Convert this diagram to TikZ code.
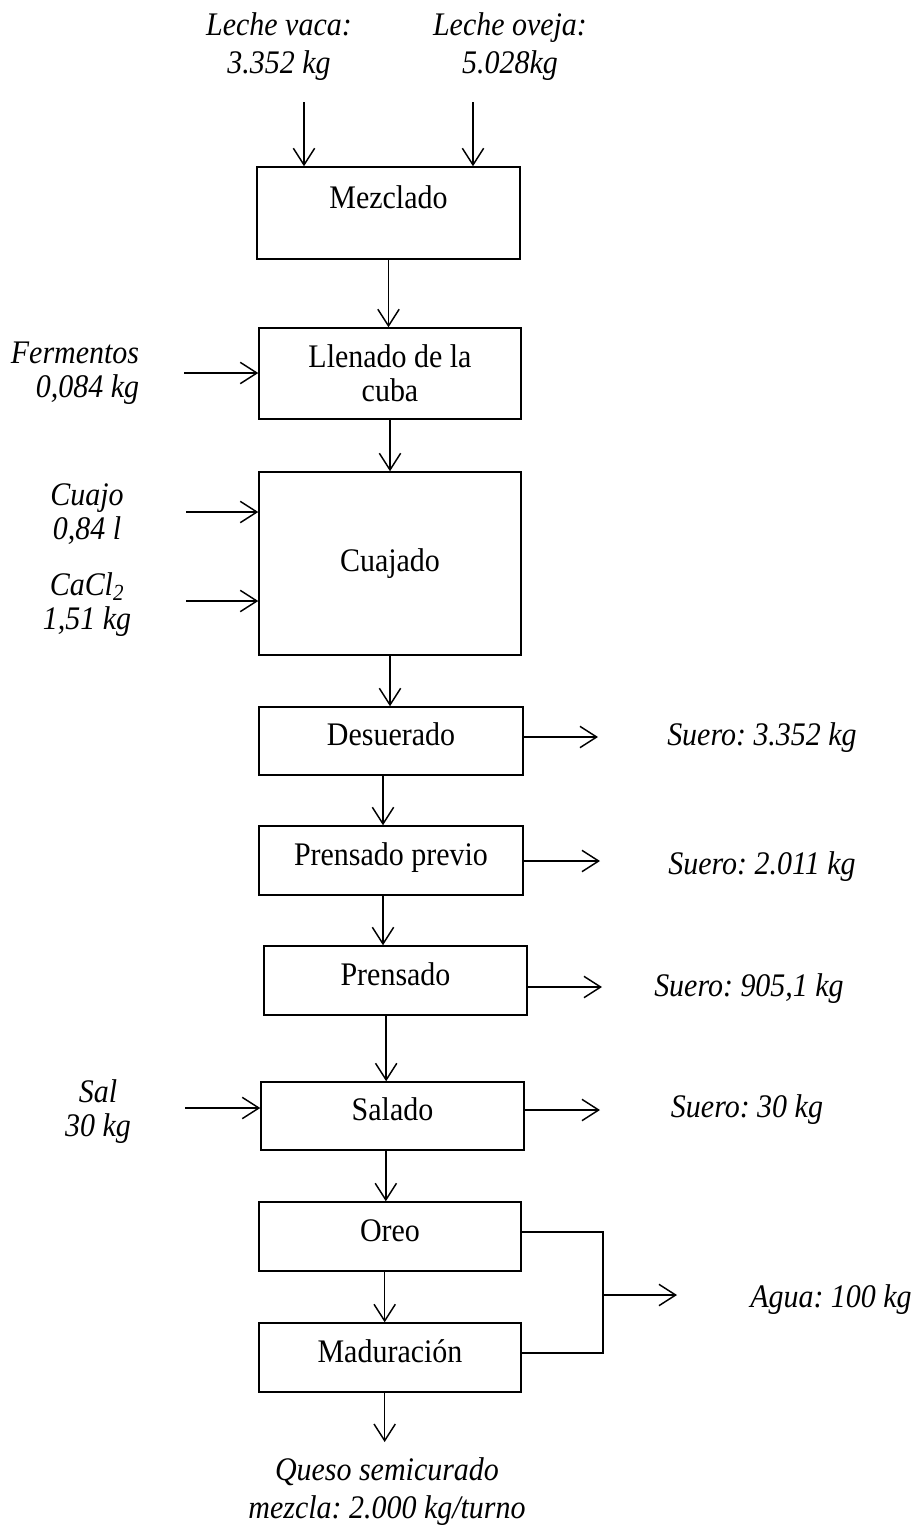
\documentclass[tikz,border=0pt]{standalone}
\usepackage{fontspec}
\setmainfont{Liberation Serif}[FakeStretch=0.91]
\usetikzlibrary{arrows.meta}
\frenchspacing
\begin{document}
\frenchspacing
\begin{tikzpicture}[x=0.75pt,y=-0.75pt,
  every node/.style={font=\fontsize{24.7}{25.5}\selectfont, inner sep=0pt},
  box/.style={draw, line width=1.1pt, align=center},
  one/.style={text height=15pt, text depth=8pt},
  sz/.style 2 args={minimum width=#1*0.75pt, minimum height=#2*0.75pt},
  lbl/.style={font=\fontsize{24.7}{25.5}\selectfont\itshape, align=center},
  lblwide/.style={font=\fontsize{24.7}{28.5}\selectfont\itshape, align=center},
  arr/.style={line width=1.1pt, -{Straight Barb[length=12.5pt,width=16pt,line width=1.1pt]}},
  flow/.style={line width=1.1pt}]

\useasboundingbox (0,0) rectangle (914,1525);

% process steps
\node[box, sz={263}{92}, text height=15pt, text depth=22pt] (mez) at (388.5,213) {Mezclado};
\node[box, sz={262}{91}] (llen)  at (390,373.5)  {Llenado de la\\cuba};
\node[box, sz={262}{183}] (cuaj) at (390,563.5)  {Cuajado};
\node[box, one, sz={264}{68}] (desu)  at (391,741)    {Desuerado};
\node[box, one, sz={264}{69}] (pprev) at (391,860.5)  {Prensado previo};
\node[box, one, sz={263}{69}] (prens) at (395.5,980.5) {Prensado};
\node[box, one, sz={263}{68}] (sal)   at (392.5,1116) {Salado};
\node[box, one, sz={262}{69}] (oreo)  at (390,1236.5) {Oreo};
\node[box, one, sz={262}{69}] (madu)  at (390,1357.5) {Maduración};

% inputs and outputs
\node[lblwide] (lv) at (279,47) {Leche vaca:\\3.352 kg};
\node[lblwide] (lo) at (510,47) {Leche oveja:\\5.028kg};
\node[lbl, align=right] (fer) at (75,373) {Fermentos\\0,084 kg};
\node[lbl] (cuajo) at (87,514) {Cuajo\\0,84 l};
\node[lbl] (cacl) at (87,605) {CaCl\textsubscript{2}\\1,51 kg};
\node[lbl] (saltxt) at (98,1112) {Sal\\30 kg};
\node[lbl] (s1) at (762,738) {Suero: 3.352 kg};
\node[lbl] (s2) at (762,867) {Suero: 2.011 kg};
\node[lbl] (s3) at (749,989) {Suero: 905,1 kg};
\node[lbl] (s4) at (747,1110) {Suero: 30 kg};
\node[lbl] (agua) at (831,1300) {Agua: 100 kg};
\node[lblwide] (queso) at (387,1492) {Queso semicurado\\mezcla: 2.000 kg/turno};

% free ends of the stream arrows
\coordinate (a1) at (304,102);
\coordinate (a2) at (473,102);
\coordinate (f1) at (184,373);
\coordinate (c1) at (186,512);
\coordinate (c2) at (186,601);
\coordinate (k1) at (185,1108);
\coordinate (e1) at (598,737);
\coordinate (e2) at (600,861);
\coordinate (e3) at (602,987);
\coordinate (e4) at (600,1110);
\coordinate (t1) at (603,1232);
\coordinate (t2) at (603,1353);
\coordinate (j)  at (603,1295);
\coordinate (w)  at (677,1295);
\coordinate (q)  at (385,1442);

% raw material inputs
\draw[arr] (a1) -- (a1 |- mez.north);
\draw[arr] (a2) -- (a2 |- mez.north);
\draw[arr] (f1) -- (f1 -| llen.west);
\draw[arr] (c1) -- (c1 -| cuaj.west);
\draw[arr] (c2) -- (c2 -| cuaj.west);
\draw[arr] (k1) -- (k1 -| sal.west);

% main line
\draw[arr] (mez.south) -- (mez.south |- llen.north);
\draw[arr] (llen.south) -- (llen.south |- cuaj.north);
\draw[arr] (cuaj.south) -- (cuaj.south |- desu.north);
\draw[arr] ([xshift=-6pt]desu.south) -- ([xshift=-6pt]desu.south |- pprev.north);
\draw[arr] ([xshift=-6pt]pprev.south) -- ([xshift=-6pt]pprev.south |- prens.north);
\draw[arr] ([xshift=-7pt]prens.south) -- ([xshift=-7pt]prens.south |- sal.north);
\draw[arr] ([xshift=-5pt]sal.south) -- ([xshift=-5pt]sal.south |- oreo.north);
\draw[arr] ([xshift=-4pt]oreo.south) -- ([xshift=-4pt]oreo.south |- madu.north);
\draw[arr] ([xshift=-4pt]madu.south) -- ([xshift=-4pt]madu.south |- q);

% whey outputs
\draw[arr] (e1 -| desu.east) -- (e1);
\draw[arr] (e2 -| pprev.east) -- (e2);
\draw[arr] (e3 -| prens.east) -- (e3);
\draw[arr] (e4 -| sal.east) -- (e4);

% water loss from drying and ripening
\draw[flow] (t1 -| oreo.east) -- (t1) -- (t2) -- (t2 -| madu.east);
\draw[arr] (j) -- (w);

\end{tikzpicture}
\end{document}
